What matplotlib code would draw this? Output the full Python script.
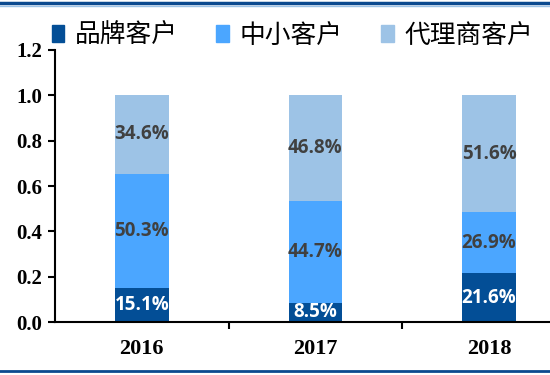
import matplotlib
matplotlib.use('Agg')
import matplotlib.pyplot as plt
from matplotlib.patches import Patch
from matplotlib.lines import Line2D

years = ['2016', '2017', '2018']
brand = [15.1, 8.5, 21.6]
small = [50.3, 44.7, 26.9]
agent = [34.6, 46.8, 51.6]
series_names = ['品牌客户', '中小客户', '代理商客户']
colors = ['#034E96', '#4BA6FF', '#9DC3E6']
text_colors = ['white', '#404040', '#404040']

fig = plt.figure(figsize=(5.5, 3.75), dpi=100)
ax = fig.add_axes([0.1, 0.141, 0.947, 0.726])

x = range(len(years))
bottom = [0, 0, 0]
for vals, c, tc in zip([brand, small, agent], colors, text_colors):
    h = [v / 100 for v in vals]
    ax.bar(x, h, width=0.31, bottom=bottom, color=c)
    for i in x:
        ax.text(i, bottom[i] + h[i] / 2, f'{vals[i]:.1f}%', ha='center', va='center',
                color=tc, fontsize=13.5, fontweight='bold', family='Open Sans')
    bottom = [b + v for b, v in zip(bottom, h)]

ax.set_xlim(-0.5, 2.5)
ax.set_ylim(0, 1.2)
ax.set_yticks([0, 0.2, 0.4, 0.6, 0.8, 1.0, 1.2])
ax.set_yticklabels([f'{t:.1f}' for t in [0, 0.2, 0.4, 0.6, 0.8, 1.0, 1.2]],
                   family='Liberation Serif', fontweight='bold', fontsize=15)
ax.set_xticks([0.5, 1.5], minor=False)
ax.set_xticklabels([])
ax.set_xticks(list(x), minor=True)
ax.set_xticklabels(years, minor=True, family='Liberation Serif', fontweight='bold', fontsize=16)
ax.tick_params(axis='x', which='minor', length=0, pad=12)
ax.tick_params(axis='x', which='major', length=5, width=1.5, direction='out')
ax.tick_params(axis='y', length=5, width=1.5, direction='out', pad=4)
for s in ['top', 'right']:
    ax.spines[s].set_visible(False)
for s in ['left', 'bottom']:
    ax.spines[s].set_linewidth(1.5)

handles = [Patch(color=c) for c in colors]
fig.legend(handles, series_names, loc='center left', bbox_to_anchor=(0.075, 0.905),
           ncol=3, frameon=False, prop={'family': 'Noto Sans CJK SC', 'size': 18.5},
           handlelength=0.5, handleheight=0.6, handletextpad=0.4, columnspacing=1.5,
           borderaxespad=0)

fig.add_artist(Line2D([0, 1], [0.992, 0.992], color='#0B4A8F', lw=2.5))
fig.add_artist(Line2D([0, 1], [0.984, 0.984], color='#9DC3E6', lw=1))
fig.add_artist(Line2D([0, 1], [0.011, 0.011], color='#0B4A8F', lw=2))

fig.savefig('out.png', dpi=100)
